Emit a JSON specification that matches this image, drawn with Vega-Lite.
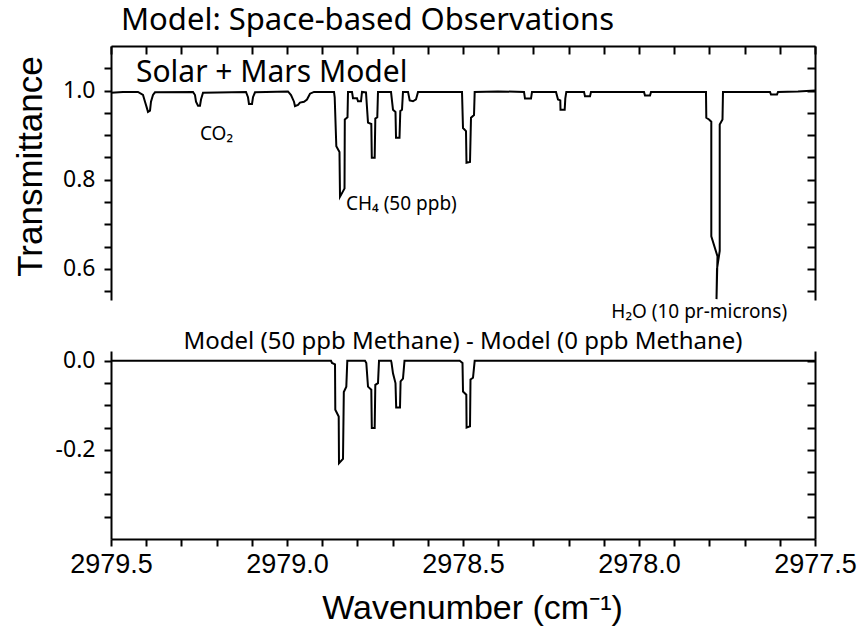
{
  "$schema": "https://vega.github.io/schema/vega-lite/v6.json",
  "padding": {"left": 12, "top": 5, "right": 5, "bottom": 5},
  "background": "white",
  "config": {
    "view": {"stroke": null},
    "axis": {"domainColor": "black", "domainWidth": 2, "tickColor": "black", "tickWidth": 2, "labelColor": "black", "titleColor": "black", "grid": false, "labelFont": "Noto Sans", "labelFontSize": 23, "titleFontWeight": "normal"},
    "title": {"color": "black", "font": "Noto Sans", "fontWeight": "normal"}
  },
  "datasets": {
    "top": [
      {"i":0,"w":2979.5,"t":0.995},{"i":1,"w":2979.4659,"t":0.997},{"i":2,"w":2979.4233,"t":0.997},{"i":3,"w":2979.4091,"t":0.99},{"i":4,"w":2979.4034,"t":0.975},{"i":5,"w":2979.3977,"t":0.96},{"i":6,"w":2979.3949,"t":0.952},{"i":7,"w":2979.3892,"t":0.955},{"i":8,"w":2979.3864,"t":0.975},{"i":9,"w":2979.3807,"t":0.99},{"i":10,"w":2979.375,"t":0.996},
      {"i":11,"w":2979.267,"t":0.997},{"i":12,"w":2979.2614,"t":0.99},{"i":13,"w":2979.2585,"t":0.975},{"i":14,"w":2979.2528,"t":0.966},{"i":15,"w":2979.2472,"t":0.966},{"i":16,"w":2979.2443,"t":0.98},{"i":17,"w":2979.2386,"t":0.995},
      {"i":18,"w":2979.1165,"t":0.997},{"i":19,"w":2979.1108,"t":0.985},{"i":20,"w":2979.108,"t":0.97},{"i":21,"w":2979.0994,"t":0.97},{"i":22,"w":2979.0966,"t":0.985},{"i":23,"w":2979.0909,"t":0.996},
      {"i":24,"w":2978.9972,"t":0.998},{"i":25,"w":2978.9886,"t":0.99},{"i":26,"w":2978.9801,"t":0.975},{"i":27,"w":2978.9773,"t":0.965},{"i":28,"w":2978.9687,"t":0.968},{"i":29,"w":2978.9631,"t":0.973},{"i":30,"w":2978.9517,"t":0.975},{"i":31,"w":2978.9432,"t":0.98},{"i":32,"w":2978.9347,"t":0.993},{"i":33,"w":2978.9233,"t":0.997},
      {"i":34,"w":2978.8665,"t":0.997},{"i":35,"w":2978.8645,"t":0.985},{"i":36,"w":2978.8599,"t":0.875},{"i":37,"w":2978.8509,"t":0.862},{"i":38,"w":2978.8494,"t":0.762},{"i":39,"w":2978.8395,"t":0.776},{"i":40,"w":2978.8366,"t":0.78},{"i":41,"w":2978.8358,"t":0.935},{"i":42,"w":2978.8281,"t":0.94},{"i":43,"w":2978.8267,"t":0.997},
      {"i":44,"w":2978.8153,"t":0.997},{"i":45,"w":2978.8125,"t":0.983},{"i":46,"w":2978.8011,"t":0.983},{"i":47,"w":2978.7983,"t":0.976},{"i":48,"w":2978.7898,"t":0.976},{"i":49,"w":2978.7869,"t":0.997},
      {"i":50,"w":2978.7756,"t":0.996},{"i":51,"w":2978.7699,"t":0.928},{"i":52,"w":2978.7605,"t":0.925},{"i":53,"w":2978.7591,"t":0.849},{"i":54,"w":2978.7509,"t":0.849},{"i":55,"w":2978.7491,"t":0.937},{"i":56,"w":2978.7435,"t":0.94},{"i":57,"w":2978.7415,"t":0.997},
      {"i":58,"w":2978.7045,"t":0.997},{"i":59,"w":2978.6989,"t":0.957},{"i":60,"w":2978.6918,"t":0.952},{"i":61,"w":2978.6903,"t":0.894},{"i":62,"w":2978.6804,"t":0.894},{"i":63,"w":2978.6781,"t":0.954},{"i":64,"w":2978.6733,"t":0.957},{"i":65,"w":2978.6705,"t":0.997},
      {"i":66,"w":2978.6562,"t":0.997},{"i":67,"w":2978.6514,"t":0.978},{"i":68,"w":2978.642,"t":0.976},{"i":69,"w":2978.6335,"t":0.98},{"i":70,"w":2978.6278,"t":0.997},
      {"i":71,"w":2978.5028,"t":0.997},{"i":72,"w":2978.5,"t":0.916},{"i":73,"w":2978.4915,"t":0.909},{"i":74,"w":2978.4901,"t":0.838},{"i":75,"w":2978.4801,"t":0.84},{"i":76,"w":2978.4773,"t":0.939},{"i":77,"w":2978.4687,"t":0.945},{"i":78,"w":2978.4668,"t":0.997},
      {"i":79,"w":2978.4006,"t":0.998},{"i":80,"w":2978.3267,"t":0.997},{"i":81,"w":2978.3239,"t":0.982},{"i":82,"w":2978.3068,"t":0.982},{"i":83,"w":2978.304,"t":0.997},
      {"i":84,"w":2978.2358,"t":0.997},{"i":85,"w":2978.2301,"t":0.98},{"i":86,"w":2978.2236,"t":0.978},{"i":87,"w":2978.223,"t":0.957},{"i":88,"w":2978.2111,"t":0.957},{"i":89,"w":2978.2094,"t":0.982},{"i":90,"w":2978.2065,"t":0.997},
      {"i":91,"w":2978.1562,"t":0.997},{"i":92,"w":2978.1534,"t":0.987},{"i":93,"w":2978.1392,"t":0.987},{"i":94,"w":2978.1364,"t":0.997},
      {"i":95,"w":2977.9858,"t":0.997},{"i":96,"w":2977.983,"t":0.989},{"i":97,"w":2977.9687,"t":0.989},{"i":98,"w":2977.9659,"t":0.997},
      {"i":99,"w":2977.8324,"t":0.997},{"i":100,"w":2977.8097,"t":0.997},{"i":101,"w":2977.8088,"t":0.939},{"i":102,"w":2977.8011,"t":0.935},{"i":103,"w":2977.7946,"t":0.93},{"i":104,"w":2977.7946,"t":0.673},{"i":105,"w":2977.777,"t":0.628},{"i":106,"w":2977.7798,"t":0.532},{"i":107,"w":2977.7784,"t":0.6},{"i":108,"w":2977.7707,"t":0.64},{"i":109,"w":2977.7707,"t":0.924},{"i":110,"w":2977.7628,"t":0.935},{"i":111,"w":2977.7614,"t":0.997},
      {"i":112,"w":2977.6278,"t":0.997},{"i":113,"w":2977.625,"t":0.991},{"i":114,"w":2977.608,"t":0.991},{"i":115,"w":2977.6051,"t":0.997},{"i":116,"w":2977.5483,"t":0.998},{"i":117,"w":2977.5,"t":1.0}
    ],
    "diff": [
      {"i":0,"w":2979.5,"d":0},{"i":1,"w":2978.875,"d":0},{"i":2,"w":2978.8722,"d":-0.005},{"i":3,"w":2978.8636,"d":-0.008},{"i":4,"w":2978.8628,"d":-0.11},{"i":5,"w":2978.8531,"d":-0.125},{"i":6,"w":2978.8523,"d":-0.23},{"i":7,"w":2978.8409,"d":-0.22},{"i":8,"w":2978.8386,"d":-0.07},{"i":9,"w":2978.8315,"d":-0.058},{"i":10,"w":2978.8287,"d":0},
      {"i":11,"w":2978.7784,"d":0},{"i":12,"w":2978.7747,"d":-0.005},{"i":13,"w":2978.7699,"d":-0.058},{"i":14,"w":2978.7605,"d":-0.065},{"i":15,"w":2978.7591,"d":-0.151},{"i":16,"w":2978.7509,"d":-0.151},{"i":17,"w":2978.7491,"d":-0.054},{"i":18,"w":2978.7415,"d":-0.05},{"i":19,"w":2978.7386,"d":0},
      {"i":20,"w":2978.7045,"d":0},{"i":21,"w":2978.7031,"d":-0.004},{"i":22,"w":2978.6989,"d":-0.028},{"i":23,"w":2978.6918,"d":-0.05},{"i":24,"w":2978.6898,"d":-0.105},{"i":25,"w":2978.679,"d":-0.105},{"i":26,"w":2978.6773,"d":-0.046},{"i":27,"w":2978.6705,"d":-0.04},{"i":28,"w":2978.6662,"d":0},
      {"i":29,"w":2978.5094,"d":0},{"i":30,"w":2978.5014,"d":-0.005},{"i":31,"w":2978.5,"d":-0.069},{"i":32,"w":2978.4906,"d":-0.076},{"i":33,"w":2978.4898,"d":-0.15},{"i":34,"w":2978.4801,"d":-0.147},{"i":35,"w":2978.4787,"d":-0.042},{"i":36,"w":2978.4716,"d":-0.038},{"i":37,"w":2978.4668,"d":0},{"i":38,"w":2977.5,"d":0}
    ],
    "species": [
      {"w":2979.2472,"t":0.89,"label":"CO₂"},
      {"w":2978.8324,"t":0.7326,"label":"CH₄ (50 ppb)"},
      {"w":2978.0787,"t":0.4892,"label":"H₂O (10 pr-microns)"}
    ],
    "model": [
      {"w":2979.429,"t":1.0187,"label":"Solar + Mars Model"}
    ]
  },
  "bounds": "flush",
  "spacing": 51,
  "vconcat": [
    {
      "width": 704,
      "height": 254,
      "title": {"text": "Model: Space-based Observations", "anchor": "start", "frame": "group", "dx": 10, "fontSize": 31, "baseline": "alphabetic", "offset": -16},
      "layer": [
        {
          "data": {"name": "top"},
          "mark": {"type": "line", "color": "black", "strokeWidth": 2},
          "encoding": {
            "x": {"field": "w", "type": "quantitative", "scale": {"domain": [2977.5, 2979.5], "reverse": true, "nice": false, "zero": false},
                  "axis": {"orient": "bottom", "offset": -254, "values": [2977.5,2977.6,2977.7,2977.8,2977.9,2978.0,2978.1,2978.2,2978.3,2978.4,2978.5,2978.6,2978.7,2978.8,2978.9,2979.0,2979.1,2979.2,2979.3,2979.4,2979.5], "labels": false, "tickSize": 8, "title": null}},
            "y": {"field": "t", "type": "quantitative", "scale": {"domain": [0.53, 1.1], "nice": false, "zero": false},
                  "axis": {"values": [0.55,0.6,0.65,0.7,0.75,0.8,0.85,0.9,0.95,1.0,1.05], "labelExpr": "round(datum.value*100) % 20 == 0 ? format(datum.value, '.1f') : ''", "tickSize": 7, "labelPadding": 9, "labelOverlap": false, "labelBound": false, "labelFlush": false,
                           "title": "Transmittance", "titleFont": "Liberation Sans", "titleFontSize": 35, "titleX": -70, "titleY": 120, "titleAngle": -90, "titleAlign": "center", "titleBaseline": "alphabetic"}},
            "order": {"field": "i", "type": "quantitative"}
          }
        },
        {
          "data": {"name": "top"},
          "mark": {"type": "line", "opacity": 0},
          "encoding": {
            "x": {"field": "w", "type": "quantitative", "scale": {"domain": [2977.5, 2979.5], "reverse": true, "nice": false, "zero": false},
                  "axis": {"orient": "bottom", "offset": -254, "values": [2977.5,2977.6,2977.7,2977.8,2977.9,2978.0,2978.1,2978.2,2978.3,2978.4,2978.5,2978.6,2978.7,2978.8,2978.9,2979.0,2979.1,2979.2,2979.3,2979.4,2979.5], "labels": false, "tickSize": 8, "title": null}},
            "y": {"field": "t", "type": "quantitative", "scale": {"domain": [0.53, 1.1], "nice": false, "zero": false},
                  "axis": {"orient": "right", "values": [0.55,0.6,0.65,0.7,0.75,0.8,0.85,0.9,0.95,1.0,1.05], "labels": false, "tickSize": -8, "title": null}},
            "order": {"field": "i", "type": "quantitative"}
          }
        },
        {
          "data": {"name": "model"},
          "mark": {"type": "text", "font": "Noto Sans", "fontSize": 30, "align": "left", "baseline": "alphabetic", "color": "black"},
          "encoding": {
            "x": {"field": "w", "type": "quantitative", "scale": {"domain": [2977.5, 2979.5], "reverse": true, "nice": false, "zero": false},
                  "axis": {"orient": "bottom", "offset": -254, "values": [2977.5,2977.6,2977.7,2977.8,2977.9,2978.0,2978.1,2978.2,2978.3,2978.4,2978.5,2978.6,2978.7,2978.8,2978.9,2979.0,2979.1,2979.2,2979.3,2979.4,2979.5], "labels": false, "tickSize": 8, "title": null}},
            "y": {"field": "t", "type": "quantitative", "scale": {"domain": [0.53, 1.1], "nice": false, "zero": false}, "axis": null},
            "text": {"field": "label"}
          }
        },
        {
          "data": {"name": "species"},
          "mark": {"type": "text", "font": "Noto Sans", "fontSize": 19, "align": "left", "baseline": "alphabetic", "color": "black"},
          "encoding": {
            "x": {"field": "w", "type": "quantitative", "scale": {"domain": [2977.5, 2979.5], "reverse": true, "nice": false, "zero": false},
                  "axis": {"orient": "bottom", "offset": -254, "values": [2977.5,2977.6,2977.7,2977.8,2977.9,2978.0,2978.1,2978.2,2978.3,2978.4,2978.5,2978.6,2978.7,2978.8,2978.9,2979.0,2979.1,2979.2,2979.3,2979.4,2979.5], "labels": false, "tickSize": 8, "title": null}},
            "y": {"field": "t", "type": "quantitative", "scale": {"domain": [0.53, 1.1], "nice": false, "zero": false}, "axis": null},
            "text": {"field": "label"}
          }
        }
      ],
      "resolve": {"axis": {"y": "independent"}}
    },
    {
      "width": 704,
      "height": 188,
      "title": {"text": "Model (50 ppb Methane) - Model (0 ppb Methane)", "anchor": "middle", "frame": "group", "fontSize": 24, "baseline": "alphabetic", "offset": -23},
      "layer": [
        {
          "data": {"name": "diff"},
          "mark": {"type": "line", "color": "black", "strokeWidth": 2},
          "encoding": {
            "x": {"field": "w", "type": "quantitative", "scale": {"domain": [2977.5, 2979.5], "reverse": true, "nice": false, "zero": false},
                  "axis": {"orient": "bottom", "values": [2977.5,2977.6,2977.7,2977.8,2977.9,2978.0,2978.1,2978.2,2978.3,2978.4,2978.5,2978.6,2978.7,2978.8,2978.9,2979.0,2979.1,2979.2,2979.3,2979.4,2979.5],
                           "labelExpr": "round(datum.value*10) % 5 == 0 ? format(datum.value, '.1f') : ''", "tickSize": 7, "labelPadding": 5, "labelFont": "Liberation Sans", "labelFontSize": 27, "labelOverlap": false, "labelBound": false, "labelFlush": false,
                           "title": "Wavenumber (cm⁻¹)", "titleFont": "Liberation Sans", "titleFontSize": 34, "titleX": 361, "titleY": 79, "titleBaseline": "alphabetic", "titleAlign": "center"}},
            "y": {"field": "d", "type": "quantitative", "scale": {"domain": [-0.4, 0.022], "nice": false, "zero": false},
                  "axis": {"values": [0,-0.05,-0.1,-0.15,-0.2,-0.25,-0.3,-0.35], "labelExpr": "round(datum.value*100) % 20 == 0 ? (datum.value < -0.001 ? '-' + format(-datum.value, '.1f') : '0.0') : ''", "tickSize": 7, "labelPadding": 9, "labelOverlap": false, "labelBound": false, "labelFlush": false, "title": null}},
            "order": {"field": "i", "type": "quantitative"}
          }
        },
        {
          "data": {"name": "diff"},
          "mark": {"type": "line", "opacity": 0},
          "encoding": {
            "x": {"field": "w", "type": "quantitative", "scale": {"domain": [2977.5, 2979.5], "reverse": true, "nice": false, "zero": false},
                  "axis": {"orient": "bottom", "values": [2977.5,2977.6,2977.7,2977.8,2977.9,2978.0,2978.1,2978.2,2978.3,2978.4,2978.5,2978.6,2978.7,2978.8,2978.9,2979.0,2979.1,2979.2,2979.3,2979.4,2979.5],
                           "labelExpr": "round(datum.value*10) % 5 == 0 ? format(datum.value, '.1f') : ''", "tickSize": 7, "labelPadding": 5, "labelFont": "Liberation Sans", "labelFontSize": 27, "labelOverlap": false, "labelBound": false, "labelFlush": false,
                           "title": "Wavenumber (cm⁻¹)", "titleFont": "Liberation Sans", "titleFontSize": 34, "titleX": 361, "titleY": 79, "titleBaseline": "alphabetic", "titleAlign": "center"}},
            "y": {"field": "d", "type": "quantitative", "scale": {"domain": [-0.4, 0.022], "nice": false, "zero": false},
                  "axis": {"orient": "right", "values": [0,-0.05,-0.1,-0.15,-0.2,-0.25,-0.3,-0.35], "labels": false, "tickSize": -8, "title": null}},
            "order": {"field": "i", "type": "quantitative"}
          }
        }
      ],
      "resolve": {"axis": {"y": "independent"}}
    }
  ]
}
